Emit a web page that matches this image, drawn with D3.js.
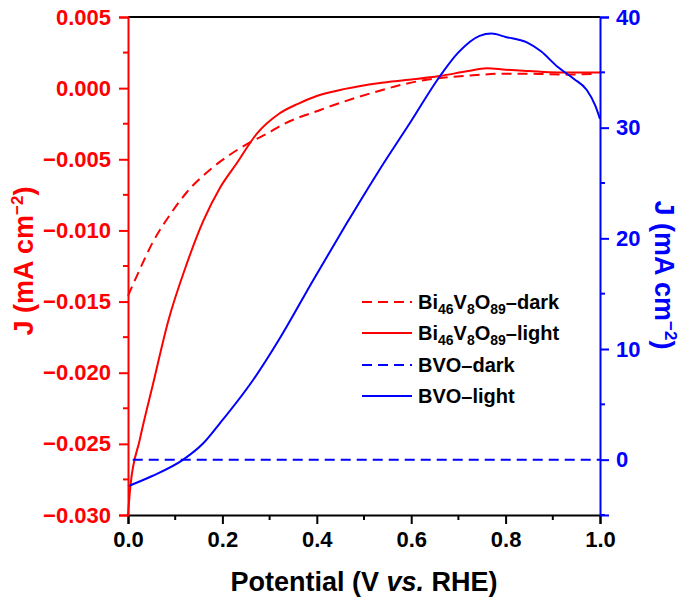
<!DOCTYPE html>
<html>
<head>
<meta charset="utf-8" />
<title>J-V curves</title>
<style>
  body { margin: 0; background: #fff; }
  text { font-family: "Liberation Sans", Arial, sans-serif; font-weight: bold; }
</style>
</head>
<body>
<div id="chart"></div>
<script src="https://d3js.org/d3.v7.min.js"></script>
<script>
// chart size and plot box
const width = 685
const height = 601
const margin = { left: 128, right: 85, top: 17, bottom: 86 }

// Bi46V8O89 dark (left axis, mA cm-2)
const biDarkV = [0, 0.02, 0.053, 0.089, 0.125, 0.175, 0.215, 0.265, 0.3, 0.32, 0.41, 0.51, 0.62, 0.73, 0.8, 0.87, 0.93, 0.985]
const biDarkJ = [-0.0146, -0.0131, -0.0108, -0.0089, -0.0073, -0.0057, -0.0047, -0.0037, -0.0031, -0.0027, -0.0015, -0.0004, 0.00052, 0.0009, 0.00102, 0.001, 0.00095, 0.001]

// Bi46V8O89 light (left axis)
const biLightV = [0, 0.005, 0.025, 0.053, 0.085, 0.125, 0.16, 0.195, 0.23, 0.273, 0.32, 0.36, 0.40, 0.46, 0.53, 0.6, 0.66, 0.72, 0.76, 0.8, 0.85, 0.91, 0.96, 1.0]
const biLightJ = [-0.0300, -0.0280, -0.0247, -0.0208, -0.0164, -0.0123, -0.0093, -0.0070, -0.0053, -0.0032, -0.0018, -0.0011, -0.00055, -0.00005, 0.00035, 0.0006, 0.00085, 0.0012, 0.0014, 0.0013, 0.0012, 0.0011, 0.0011, 0.0011]

// BVO dark (right axis)
const bvoDarkV = [0.01, 1.0]
const bvoDarkJ = [0, 0]

// BVO light (right axis)
const bvoLightV = [0, 0.05, 0.117, 0.16, 0.195, 0.265, 0.322, 0.392, 0.464, 0.53, 0.6, 0.66, 0.70, 0.745, 0.77, 0.80, 0.845, 0.875, 0.91, 0.945, 0.972, 0.99, 1.0]
const bvoLightJ = [-2.4, -1.5, 0, 1.5, 3.3, 7.2, 11.0, 16.2, 21.4, 26.0, 30.6, 34.6, 36.8, 38.3, 38.5, 38.2, 37.7, 36.9, 35.5, 34.4, 33.4, 32.0, 30.8]

// ticks
const xTicks = [0, 0.2, 0.4, 0.6, 0.8, 1.0]
const xMinor = [0.1, 0.3, 0.5, 0.7, 0.9]
const leftTicks = [0.005, 0, -0.005, -0.010, -0.015, -0.020, -0.025, -0.030]
const leftMinor = [0.0025, -0.0025, -0.0075, -0.0125, -0.0175, -0.0225, -0.0275]
const rightTicks = [0, 10, 20, 30, 40]
const rightMinor = [-5, 5, 15, 25, 35]

const RED = '#ff0000'
const BLUE = '#0000ff'

const svg = d3.select('#chart').append('svg')
  .attr('width', width)
  .attr('height', height)

const x = d3.scaleLinear().domain([0, 1]).range([margin.left, width - margin.right])
const yL = d3.scaleLinear().domain([-0.030, 0.005]).range([height - margin.bottom, margin.top])
const yR = d3.scaleLinear().domain([-5, 40]).range([height - margin.bottom, margin.top])

function drawLine(vs, js, yScale, color, dashed) {
  const pts = vs.map((v, i) => [v, js[i]])
  const line = d3.line()
    .x(d => x(d[0]))
    .y(d => yScale(d[1]))
    .curve(d3.curveMonotoneX)
  svg.append('path')
    .datum(pts)
    .attr('d', line)
    .attr('fill', 'none')
    .attr('stroke', color)
    .attr('stroke-width', 2)
    .attr('stroke-dasharray', dashed ? '10,6' : null)
}

drawLine(biDarkV, biDarkJ, yL, RED, true)
drawLine(biLightV, biLightJ, yL, RED, false)
drawLine(bvoDarkV, bvoDarkJ, yR, BLUE, true)
drawLine(bvoLightV, bvoLightJ, yR, BLUE, false)

// top frame line
svg.append('line')
  .attr('x1', x(0)).attr('x2', x(1))
  .attr('y1', margin.top).attr('y2', margin.top)
  .attr('stroke', '#000').attr('stroke-width', 2)

// axes
const fmt3 = d3.format('.3f')
const xAxis = svg.append('g')
  .attr('transform', `translate(0,${height - margin.bottom})`)
  .call(d3.axisBottom(x).tickValues(xTicks).tickFormat(d3.format('.1f')).tickSize(9).tickPadding(7))
xAxis.append('g').selectAll('line').data(xMinor).join('line')
  .attr('x1', d => x(d)).attr('x2', d => x(d)).attr('y1', 0).attr('y2', 5)
xAxis.selectAll('line').attr('stroke', '#000').attr('stroke-width', 2)
xAxis.select('.domain').attr('stroke', '#000').attr('stroke-width', 2)
xAxis.selectAll('text').attr('fill', '#000').style('font-size', '22px')

const lAxis = svg.append('g')
  .attr('transform', `translate(${margin.left},0)`)
  .call(d3.axisLeft(yL).tickValues(leftTicks).tickFormat(fmt3).tickSize(9).tickPadding(8))
lAxis.append('g').selectAll('line').data(leftMinor).join('line')
  .attr('y1', d => yL(d)).attr('y2', d => yL(d)).attr('x1', 0).attr('x2', -5)
lAxis.selectAll('line').attr('stroke', RED).attr('stroke-width', 2)
lAxis.select('.domain').attr('stroke', RED).attr('stroke-width', 2)
lAxis.selectAll('text').attr('fill', RED).style('font-size', '22px')

const rAxis = svg.append('g')
  .attr('transform', `translate(${width - margin.right},0)`)
  .call(d3.axisRight(yR).tickValues(rightTicks).tickSize(9).tickPadding(7))
rAxis.append('g').selectAll('line').data(rightMinor).join('line')
  .attr('y1', d => yR(d)).attr('y2', d => yR(d)).attr('x1', 0).attr('x2', 5)
rAxis.selectAll('line').attr('stroke', BLUE).attr('stroke-width', 2)
rAxis.select('.domain').attr('stroke', BLUE).attr('stroke-width', 2)
rAxis.selectAll('text').attr('fill', BLUE).style('font-size', '22px')

// axis titles
const xTitle = svg.append('text')
  .attr('x', 364).attr('y', 591)
  .attr('text-anchor', 'middle')
  .style('font-size', '27px')
  .attr('fill', '#000')
xTitle.append('tspan').text('Potential (V ')
xTitle.append('tspan').style('font-style', 'italic').text('vs.')
xTitle.append('tspan').text(' RHE)')

function jTitle(cx, cy, angle, color) {
  const t = svg.append('text')
    .attr('transform', `translate(${cx},${cy}) rotate(${angle})`)
    .attr('text-anchor', 'middle')
    .style('font-size', '27px')
    .attr('fill', color)
  t.append('tspan').text('J (mA cm')
  t.append('tspan').attr('dy', -10).style('font-size', '17px').text('\u22122')
  t.append('tspan').attr('dy', 10).text(')')
}
jTitle(33, 261, -90, RED)
jTitle(655, 275, 90, BLUE)

// legend
const legendRows = [
  { label: ['Bi', '46', 'V', '8', 'O', '89', '\u2013dark'], color: RED, dashed: true },
  { label: ['Bi', '46', 'V', '8', 'O', '89', '\u2013light'], color: RED, dashed: false },
  { label: ['BVO\u2013dark'], color: BLUE, dashed: true },
  { label: ['BVO\u2013light'], color: BLUE, dashed: false }
]
const legendY = [302, 333, 365, 396]
legendRows.forEach((row, i) => {
  const y = legendY[i]
  svg.append('line')
    .attr('x1', 362).attr('x2', 412).attr('y1', y).attr('y2', y)
    .attr('stroke', row.color).attr('stroke-width', 2)
    .attr('stroke-dasharray', row.dashed ? '10,6' : null)
  const t = svg.append('text')
    .attr('x', 418).attr('y', y + 7)
    .style('font-size', '20px')
    .attr('fill', '#000')
  row.label.forEach((s, k) => {
    const sub = k % 2 === 1 && row.label.length > 1
    t.append('tspan')
      .attr('dy', sub ? 5 : (k > 0 ? -5 : 0))
      .style('font-size', sub ? '14px' : '20px')
      .text(s)
  })
})
</script>
</body>
</html>
